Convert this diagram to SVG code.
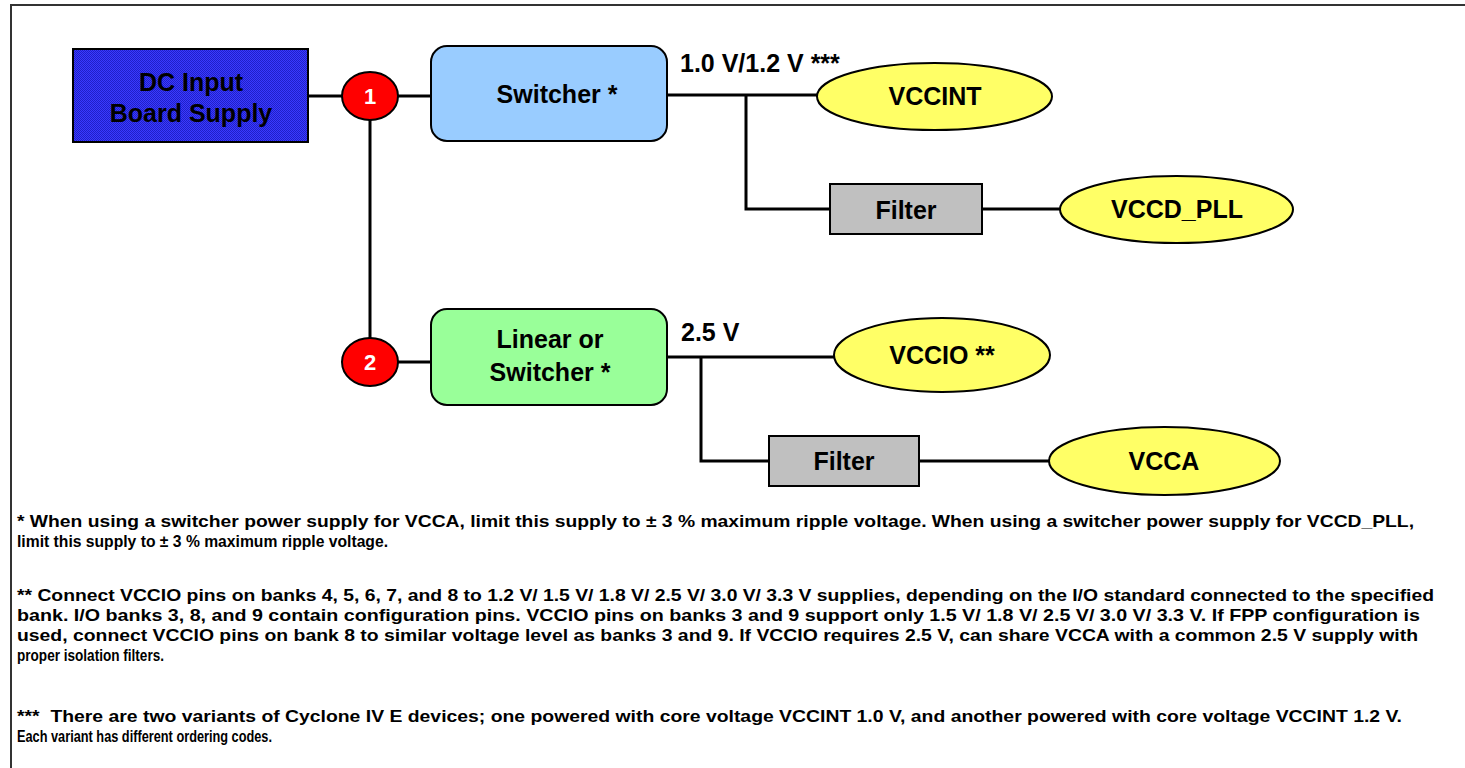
<svg xmlns="http://www.w3.org/2000/svg" width="1465" height="768" viewBox="0 0 1465 768">
<style>
.t{font-family:"Liberation Sans",Arial,sans-serif;font-weight:bold;fill:#000}
.lbl{font-size:25px;text-anchor:middle}
.v{font-size:25px}
.fn{font-size:16.5px}
.ln{stroke:#000;stroke-width:3;fill:none}
.box{stroke:#000;stroke-width:2}
.ell{fill:#ffff66;stroke:#000;stroke-width:2}
.red{fill:#ff0000;stroke:#000;stroke-width:2}
.num{font-size:22px;text-anchor:middle;fill:#fff}
</style>
<defs>
<pattern id="dither" width="2" height="2" patternUnits="userSpaceOnUse">
<rect width="2" height="2" fill="#3a3aff"/>
<rect width="1" height="1" fill="#2020c8"/>
<rect x="1" y="1" width="1" height="1" fill="#2020c8"/>
</pattern>
</defs>
<rect width="1465" height="768" fill="#fff"/>
<path d="M11 768 V5 H1465" fill="none" stroke="#333" stroke-width="2"/>
<g id="connectors">
<path class="ln" d="M308 96 H342"/>
<path class="ln" d="M398 96 H431"/>
<path class="ln" d="M370 120 V338"/>
<path class="ln" d="M398 362 H431"/>
<path class="ln" d="M667 95 H817"/>
<path class="ln" d="M746 95 V209 H830"/>
<path class="ln" d="M982 209 H1060"/>
<path class="ln" d="M667 357 H834"/>
<path class="ln" d="M701 357 V461 H769"/>
<path class="ln" d="M919 461 H1049"/>
</g>
<g id="dc-input">
<rect class="box" x="73" y="49" width="235" height="93" fill="url(#dither)"/>
<text class="t lbl" x="191" y="91">DC Input</text>
<text class="t lbl" x="191" y="122">Board Supply</text>
</g>
<g id="node1">
<ellipse class="red" cx="370" cy="96" rx="28" ry="24"/>
<text class="t num" x="370" y="104">1</text>
</g>
<g id="node2">
<ellipse class="red" cx="370" cy="362" rx="28" ry="24"/>
<text class="t num" x="370" y="370">2</text>
</g>
<g id="switcher">
<rect class="box" x="431" y="46" width="236" height="95" rx="16" fill="#99ccff"/>
<text class="t lbl" x="557" y="103">Switcher *</text>
</g>
<g id="linear">
<rect class="box" x="431" y="309" width="236" height="96" rx="16" fill="#99ff99"/>
<text class="t lbl" x="550" y="348">Linear or</text>
<text class="t lbl" x="550" y="381">Switcher *</text>
</g>
<g id="label-v1">
<text class="t v" x="680" y="72">1.0 V/1.2 V ***</text>
</g>
<g id="label-v2">
<text class="t v" x="681" y="341">2.5 V</text>
</g>
<g id="vccint">
<ellipse class="ell" cx="934.5" cy="96.5" rx="117.5" ry="33.5"/>
<text class="t lbl" x="935" y="105">VCCINT</text>
</g>
<g id="filter1">
<rect class="box" x="830" y="184" width="152" height="50" fill="#c0c0c0"/>
<text class="t lbl" x="906" y="219">Filter</text>
</g>
<g id="vccd-pll">
<ellipse class="ell" cx="1176.5" cy="209.5" rx="116.5" ry="33.5"/>
<text class="t lbl" x="1177" y="218">VCCD_PLL</text>
</g>
<g id="vccio">
<ellipse class="ell" cx="942" cy="355" rx="108" ry="37"/>
<text class="t lbl" x="942" y="364">VCCIO **</text>
</g>
<g id="filter2">
<rect class="box" x="769" y="436" width="150" height="50" fill="#c0c0c0"/>
<text class="t lbl" x="844" y="470">Filter</text>
</g>
<g id="vcca">
<ellipse class="ell" cx="1164.5" cy="461" rx="115.5" ry="34"/>
<text class="t lbl" x="1164" y="470">VCCA</text>
</g>
<g id="footnotes" class="t fn">
<text x="17" y="527" textLength="1397" lengthAdjust="spacingAndGlyphs">* When using a switcher power supply for VCCA, limit this supply to ± 3 % maximum ripple voltage. When using a switcher power supply for VCCD_PLL,</text>
<text x="17" y="547" textLength="371" lengthAdjust="spacingAndGlyphs">limit this supply to ± 3 % maximum ripple voltage.</text>
<text x="17" y="601" textLength="1417" lengthAdjust="spacingAndGlyphs">** Connect VCCIO pins on banks 4, 5, 6, 7, and 8 to 1.2 V/ 1.5 V/ 1.8 V/ 2.5 V/ 3.0 V/ 3.3 V supplies, depending on the I/O standard connected to the specified</text>
<text x="17" y="621" textLength="1403" lengthAdjust="spacingAndGlyphs">bank. I/O banks 3, 8, and 9 contain configuration pins. VCCIO pins on banks 3 and 9 support only 1.5 V/ 1.8 V/ 2.5 V/ 3.0 V/ 3.3 V. If FPP configuration is</text>
<text x="17" y="641" textLength="1401" lengthAdjust="spacingAndGlyphs">used, connect VCCIO pins on bank 8 to similar voltage level as banks 3 and 9. If VCCIO requires 2.5 V, can share VCCA with a common 2.5 V supply with</text>
<text x="17" y="661" textLength="147" lengthAdjust="spacingAndGlyphs">proper isolation filters.</text>
<text x="17" y="722" textLength="1385" lengthAdjust="spacingAndGlyphs">***&#160; There are two variants of Cyclone IV E devices; one powered with core voltage VCCINT 1.0 V, and another powered with core voltage VCCINT 1.2 V.</text>
<text x="17" y="742" textLength="255" lengthAdjust="spacingAndGlyphs">Each variant has different ordering codes.</text>
</g>
</svg>
